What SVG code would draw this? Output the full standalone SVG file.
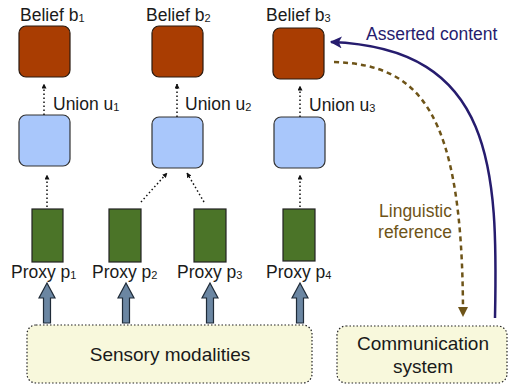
<svg xmlns="http://www.w3.org/2000/svg" width="508" height="390" viewBox="0 0 508 390">
<style>
text{font-family:"Liberation Sans",Arial,sans-serif;fill:#1a1a1a}
.lbl{font-size:17.5px}
.sub{font-size:11px}
.belief{fill:#a93d02;stroke:#2a1a10;stroke-width:1.2}
.union{fill:#a9c7fb;stroke:#333;stroke-width:1.2}
.proxy{fill:#4b7428;stroke:#222;stroke-width:1.2}
.dot{fill:none;stroke:#111;stroke-width:1.5;stroke-dasharray:1.5 2.5}
.block{fill:#6b86a2;stroke:#1f2b38;stroke-width:1.2}
.sys{fill:#f8f8dc;stroke:#222;stroke-width:1.2;stroke-dasharray:1.5 2}
.big{font-size:19px;text-anchor:middle}
</style>
<defs>
<marker id="ah" viewBox="0 0 10 10" refX="9" refY="5" markerWidth="5" markerHeight="5" orient="auto" markerUnits="userSpaceOnUse"><path d="M0,0 L10,5 L0,10 z" fill="#111"/></marker>
<marker id="navy" viewBox="0 0 10 10" refX="9" refY="5" markerWidth="12" markerHeight="12" orient="auto" markerUnits="userSpaceOnUse"><path d="M0,0 L10,5 L0,10 L2.5,5 z" fill="#261c6e"/></marker>
<marker id="brown" viewBox="0 0 10 10" refX="9" refY="5" markerWidth="10" markerHeight="10" orient="auto" markerUnits="userSpaceOnUse"><path d="M0,0 L10,5 L0,10 z" fill="#6e5418"/></marker>
</defs>

<g id="belief1"><rect class="belief" x="19" y="26" width="51" height="51" rx="7"/><text class="lbl" x="20" y="21">Belief b<tspan class="sub" dy="1">1</tspan></text></g>
<g id="belief2"><rect class="belief" x="152" y="26" width="51" height="51" rx="7"/><text class="lbl" x="146" y="21">Belief b<tspan class="sub" dy="1">2</tspan></text></g>
<g id="belief3"><rect class="belief" x="273" y="28" width="51" height="51" rx="7"/><text class="lbl" x="266" y="21">Belief b<tspan class="sub" dy="1">3</tspan></text></g>

<g id="union1"><rect class="union" x="19" y="115" width="51" height="51" rx="7"/><text class="lbl" x="53" y="110">Union u<tspan class="sub" dy="1">1</tspan></text></g>
<g id="union2"><rect class="union" x="152" y="117" width="51" height="51" rx="7"/><text class="lbl" x="185" y="110">Union u<tspan class="sub" dy="1">2</tspan></text></g>
<g id="union3"><rect class="union" x="274" y="117" width="51" height="51" rx="7"/><text class="lbl" x="309" y="111">Union u<tspan class="sub" dy="1">3</tspan></text></g>

<g id="proxy1"><rect class="proxy" x="32" y="209" width="31" height="53"/><text class="lbl" x="11" y="278">Proxy p<tspan class="sub" dy="1">1</tspan></text></g>
<g id="proxy2"><rect class="proxy" x="109" y="209" width="32" height="53"/><text class="lbl" x="92" y="278">Proxy p<tspan class="sub" dy="1">2</tspan></text></g>
<g id="proxy3"><rect class="proxy" x="194" y="209" width="32" height="53"/><text class="lbl" x="177" y="278">Proxy p<tspan class="sub" dy="1">3</tspan></text></g>
<g id="proxy4"><rect class="proxy" x="283" y="209" width="32" height="52"/><text class="lbl" x="266" y="278">Proxy p<tspan class="sub" dy="1">4</tspan></text></g>

<g id="sensory"><rect class="sys" x="27" y="325" width="285" height="58" rx="9"/><text class="big" x="170" y="361">Sensory modalities</text></g>
<g id="communication"><rect class="sys" x="337" y="326" width="170" height="57" rx="9"/><text class="big" x="423" y="350">Communication</text><text class="big" x="423" y="373">system</text></g>

<g id="connectors">
<path class="dot" d="M44 115 V84" marker-end="url(#ah)"/>
<path class="dot" d="M177 117 V84" marker-end="url(#ah)"/>
<path class="dot" d="M300 117 V86" marker-end="url(#ah)"/>
<path class="dot" d="M47 207 V175" marker-end="url(#ah)"/>
<path class="dot" d="M141 202 L167 173" marker-end="url(#ah)"/>
<path class="dot" d="M204 202 L187 173" marker-end="url(#ah)"/>
<path class="dot" d="M300 207 V175" marker-end="url(#ah)"/>
<path class="block" d="M47 283 L55 298 L50.5 298 L50.5 323 L43.5 323 L43.5 298 L39 298 Z"/>
<path class="block" d="M126 283 L134 298 L129.5 298 L129.5 323 L122.5 323 L122.5 298 L118 298 Z"/>
<path class="block" d="M210 283 L218 298 L213.5 298 L213.5 323 L206.5 323 L206.5 298 L202 298 Z"/>
<path class="block" d="M300 283 L308 298 L303.5 298 L303.5 323 L296.5 323 L296.5 298 L292 298 Z"/>
<path d="M495 318 C498 170 495 48 331 42" fill="none" stroke="#261c6e" stroke-width="2.5" marker-end="url(#navy)"/>
<path d="M334 62 C420 65 463 110 463 316" fill="none" stroke="#6e5418" stroke-width="2.5" stroke-dasharray="5 4" marker-end="url(#brown)"/>
<text class="lbl" x="366" y="40" style="fill:#261c6e">Asserted content</text>
<text class="lbl" x="452" y="217" text-anchor="end" style="fill:#6e5418">Linguistic</text>
<text class="lbl" x="452" y="238" text-anchor="end" style="fill:#6e5418">reference</text>
</g>
</svg>
